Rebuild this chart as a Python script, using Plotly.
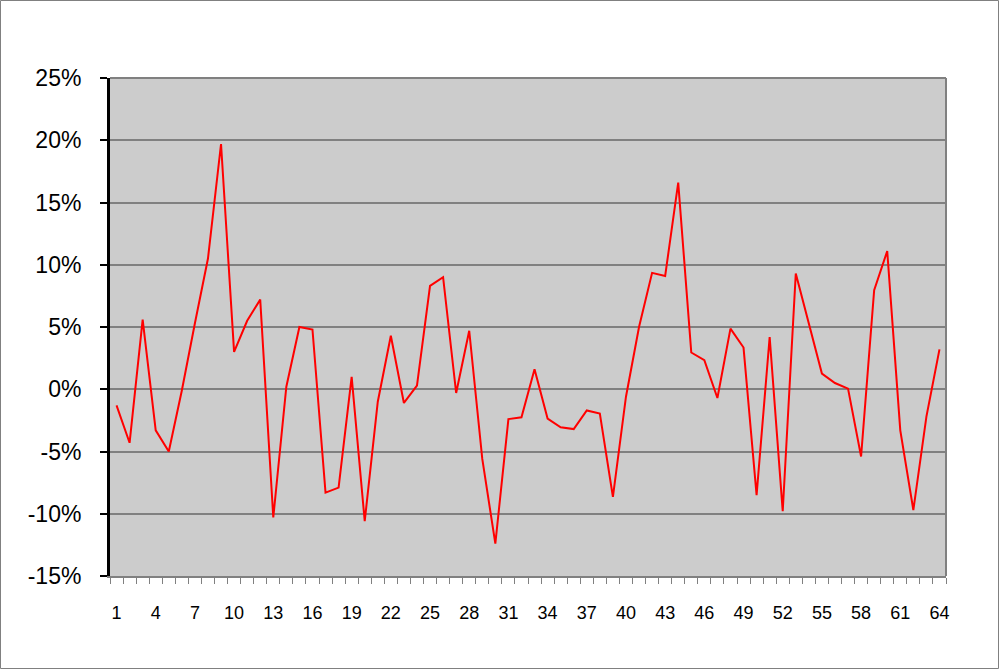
import plotly.graph_objects as go

categories = list(range(1, 65))
values_pct = [
    -1.3, -4.3, 5.6, -3.3, -5.0, -0.1, 5.3, 10.5, 19.7, 3.0,
    5.5, 7.2, -10.3, 0.2, 5.0, 4.8, -8.3, -7.9, 1.0, -10.6,
    -1.0, 4.3, -1.1, 0.3, 8.3, 9.0, -0.3, 4.7, -5.6, -12.4,
    -2.4, -2.25, 1.6, -2.35, -3.05, -3.2, -1.7, -1.95, -8.65, -0.6,
    5.0, 9.35, 9.1, 16.6, 2.95, 2.33, -0.7, 4.87, 3.35, -8.5,
    4.2, -9.8, 9.3, 5.25, 1.26, 0.5, 0.05, -5.4, 7.95, 11.1,
    -3.3, -9.7, -2.2, 3.2,
]
values = [v / 100 for v in values_pct]
tick_labels = [str(c) for c in categories[::3]]
y_ticks = [-0.15, -0.10, -0.05, 0.0, 0.05, 0.10, 0.15, 0.20, 0.25]
y_tick_labels = ["-15%", "-10%", "-5%", "0%", "5%", "10%", "15%", "20%", "25%"]

FONT = "Liberation Sans, Arial, sans-serif"

fig = go.Figure()
fig.add_trace(go.Scatter(
    x=categories, y=values, mode="lines",
    line=dict(color="#FF0000", width=2),
    showlegend=False, hoverinfo="skip",
))

L, R, T, B = 110, 54, 78, 94
W, H = 1000, 670
pw, ph = W - L - R, H - T - B

fig.update_layout(
    width=W, height=H,
    margin=dict(l=L, r=R, t=T, b=B, pad=0),
    paper_bgcolor="white",
    plot_bgcolor="#CCCCCC",
    font=dict(family=FONT, color="black"),
    xaxis=dict(
        range=[0.5, 64.5],
        tickmode="array",
        tickvals=categories[::3],
        ticktext=tick_labels,
        ticks="outside", ticklen=0, tickwidth=1,
        tickfont=dict(size=18, family=FONT, color="black"),
        ticklabelstandoff=19,
        showgrid=False, zeroline=False,
        showline=True, linecolor="#808080", linewidth=2,
        minor=dict(ticks="outside", tick0=0.5, dtick=1, ticklen=6,
                   tickcolor="#808080", tickwidth=1, showgrid=False),
        fixedrange=True,
    ),
    yaxis=dict(
        range=[-0.15, 0.25],
        tickmode="array", tickvals=y_ticks, ticktext=y_tick_labels,
        ticks="outside", ticklen=7, tickwidth=2, tickcolor="black",
        tickfont=dict(size=23, family=FONT, color="black"),
        ticklabelstandoff=14,
        showgrid=True, gridcolor="#808080", gridwidth=1.5,
        zeroline=False,
        showline=True, linecolor="black", linewidth=3,
        fixedrange=True,
    ),
    shapes=[
        dict(type="line", xref="paper", yref="paper", x0=0, x1=1, y0=1, y1=1,
             line=dict(color="#808080", width=2), layer="above"),
        dict(type="line", xref="paper", yref="paper", x0=1, x1=1, y0=0, y1=1,
             line=dict(color="#808080", width=2), layer="above"),
        dict(type="rect", xref="paper", yref="paper",
             x0=(0.5 - L) / pw, x1=(W - 1.5 - L) / pw,
             y0=-(H - 1.5 - (T + ph)) / ph, y1=(T + ph - 0.5) / ph,
             line=dict(color="#808080", width=1), fillcolor="rgba(0,0,0,0)",
             layer="above"),
    ],
)

fig.write_html(
    "out.html",
    config={"displayModeBar": False},
    post_script="document.body.style.margin='0';document.body.style.overflow='hidden';",
)
